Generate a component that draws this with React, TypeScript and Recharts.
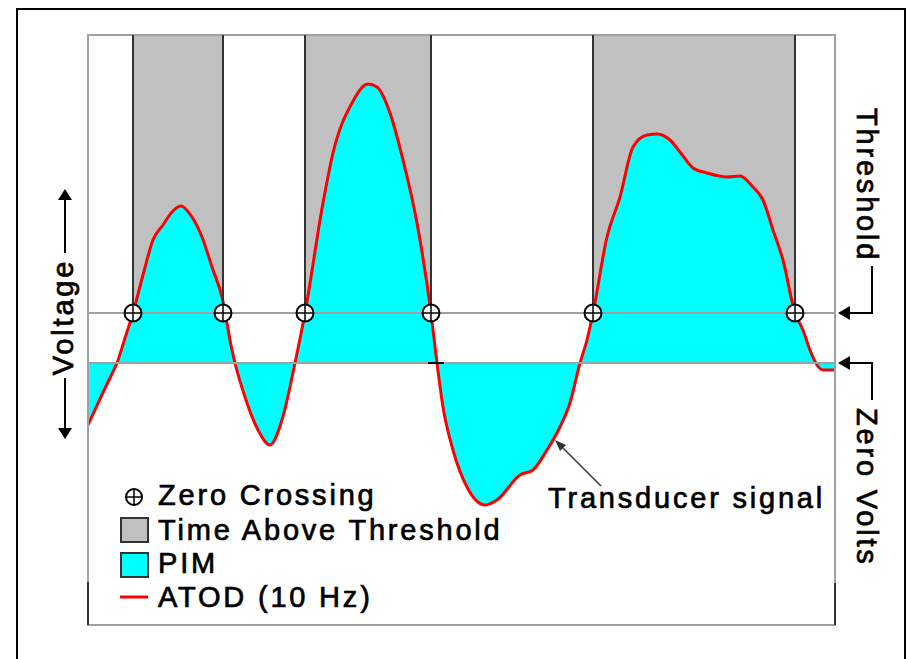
import { ComposedChart, Area, Scatter, XAxis, YAxis, ReferenceArea, ReferenceLine } from 'recharts';

// time in tenths of the plot width (s), voltage in threshold units
const time = [0, 1.2, 2.2, 2.9, 3.7, 4.5, 5.5, 6.5, 7.5, 8.4, 9.3, 10.4, 11.4, 12.4, 13.4, 14.4, 14.7, 15.7, 17.0, 18.2, 19.4, 20.7, 21.7, 23.5, 24.5, 26.4, 28.0, 28.9, 30.2, 31.5, 32.9, 34.3, 34.9, 35.5, 36.5, 37.9, 39.7, 40.9, 43.2, 44.5, 45.9, 47.2, 48.2, 49.2, 49.9, 50.5, 51.9, 53.2, 54.5, 55.9, 56.9, 58.2, 59.2, 60.5, 61.9, 63.9, 65.2, 66.5, 67.5, 68.5, 69.5, 70.7, 71.5, 72.2, 72.9, 73.5, 74.7];
const voltage = [-1.24, -0.72, -0.3, 0, 0.5, 1.0, 1.76, 2.46, 2.76, 3.02, 3.14, 2.92, 2.52, 1.92, 1.32, 0.26, 0, -0.68, -1.34, -1.64, -1.14, 0, 1.0, 3.2, 4.2, 5.2, 5.58, 5.52, 5.0, 4.06, 2.8, 1.0, 0, -0.88, -1.74, -2.48, -2.84, -2.74, -2.24, -2.14, -1.74, -1.28, -0.8, 0, 0.46, 1.0, 2.52, 3.32, 4.32, 4.56, 4.58, 4.46, 4.22, 3.9, 3.8, 3.72, 3.74, 3.52, 3.26, 2.66, 2.06, 1.0, 0.66, 0.26, -0.04, -0.14, -0.14];
const crossingTimes = [4.5, 13.5, 21.7, 34.3, 50.5, 70.7];
const threshold = 1;
const xDomain = [0, 74.7];
const yDomain = [-5.24, 6.56];

const data = time.map((t, i) => ({ t, v: voltage[i] }));
const crossings = crossingTimes.map(t => ({ t, v: threshold }));
const bands = [];
for (let i = 0; i < crossingTimes.length; i += 2) bands.push([crossingTimes[i], crossingTimes[i + 1]]);

// heavier than plain Arial, like the old bitmap font
const font = { fontFamily: '"Liberation Sans", Arial, sans-serif', fontSize: 29, letterSpacing: 2.8, fill: '#000', stroke: '#000', strokeWidth: 0.7 };

const CrossMark = ({ cx, cy, r = 8.5 }: any) => (
  <g>
    <circle cx={cx} cy={cy} r={r} fill="#fff" stroke="#000" strokeWidth={2} />
    <line x1={cx - r} y1={cy} x2={cx + r} y2={cy} stroke="#000" strokeWidth={1.5} />
    <line x1={cx} y1={cy - r} x2={cx} y2={cy + r} stroke="#000" strokeWidth={1.5} />
  </g>
);

const Overlay = () => (
  <svg width={907} height={659} style={{ position: 'absolute', left: 0, top: 0, pointerEvents: 'none' }}>
    {/* frame */}
    <path d="M17 670 V9 H905 V670" fill="none" stroke="#000" strokeWidth={2} />

    {/* voltage label */}
    <line x1={65} y1={198} x2={65} y2={253} stroke="#000" strokeWidth={2} />
    <path d="M65 189 L58 200 L72 200 Z" fill="#000" />
    <text {...font} x={73} y={317} textAnchor="middle" transform="rotate(-90 73 317)">Voltage</text>
    <line x1={65} y1={378} x2={65} y2={430} stroke="#000" strokeWidth={2} />
    <path d="M65 439 L58 428 L72 428 Z" fill="#000" />

    {/* right labels */}
    <text {...font} x={857} y={108} transform="rotate(90 857 108)">Threshold</text>
    <path d="M872 266 V313 H848" fill="none" stroke="#000" strokeWidth={2} />
    <path d="M838 313 L850 306 L850 320 Z" fill="#000" />
    <path d="M848 363 H872 V400" fill="none" stroke="#000" strokeWidth={2} />
    <path d="M838 363 L850 356 L850 370 Z" fill="#000" />
    <text {...font} x={857} y={408} transform="rotate(90 857 408)">Zero Volts</text>

    {/* annotation */}
    <line x1={601} y1={486} x2={558} y2={443} stroke="#333" strokeWidth={1.5} />
    <path d="M555 440 L566 445 L560 451 Z" fill="#333" />
    <text {...font} x={548} y={508}>Transducer signal</text>

    {/* legend */}
    <CrossMark cx={134} cy={497} r={8} />
    <text {...font} x={158} y={505}>Zero Crossing</text>
    <rect x={121} y={518} width={27} height={24} fill="#c0c0c0" stroke="#333" strokeWidth={2} />
    <text {...font} x={158} y={540}>Time Above Threshold</text>
    <rect x={121} y={553} width={27} height={24} fill="#00ffff" stroke="#333" strokeWidth={2} />
    <text {...font} x={158} y={573}>PIM</text>
    <line x1={120} y1={597} x2={148} y2={597} stroke="#ff0000" strokeWidth={3} />
    <text {...font} x={158} y={607}>ATOD (10 Hz)</text>
  </svg>
);

export default function App() {
  return (
    <div style={{ position: 'absolute', left: 0, top: 0, width: 907, height: 659, background: '#fff' }}>
      <ComposedChart width={907} height={659} data={data} margin={{ top: 35, right: 72, bottom: 34, left: 88 }}>
        <XAxis dataKey="t" type="number" domain={xDomain} hide allowDataOverflow />
        <YAxis type="number" domain={yDomain} hide allowDataOverflow />
        {bands.map(([a, b], i) => (
          <ReferenceArea key={i} x1={a} x2={b} y1={threshold} y2={yDomain[1]} fill="#c0c0c0" fillOpacity={1} stroke="none" />
        ))}
        <Area type="monotone" dataKey="v" baseValue={0} fill="#00ffff" fillOpacity={1} stroke="#ff0000" strokeWidth={3} dot={false} activeDot={false} isAnimationActive={false} />
        <ReferenceLine y={threshold} stroke="#a0a0a0" strokeWidth={2} />
        <ReferenceLine y={0} stroke="#a0a0a0" strokeWidth={2} />
        {crossingTimes.map(t => (
          <ReferenceLine key={t} segment={[{ x: t, y: threshold }, { x: t, y: yDomain[1] }]} stroke="#333" strokeWidth={2} />
        ))}
        <ReferenceLine segment={[{ x: 34, y: 0 }, { x: 35.6, y: 0 }]} stroke="#000" strokeWidth={2} />
        <ReferenceArea x1={xDomain[0]} x2={xDomain[1]} y1={yDomain[0]} y2={yDomain[1]} fill="none" stroke="#a0a0a0" strokeWidth={2} />
        <ReferenceLine segment={[{ x: 0, y: -4.38 }, { x: 0, y: yDomain[0] }]} stroke="#333" strokeWidth={2} />
        <ReferenceLine segment={[{ x: xDomain[1], y: -4.4 }, { x: xDomain[1], y: yDomain[0] }]} stroke="#333" strokeWidth={2} />
        <Scatter data={crossings} dataKey="v" shape={(p: any) => <CrossMark cx={p.cx} cy={p.cy} />} isAnimationActive={false} />
      </ComposedChart>
      <Overlay />
    </div>
  );
}
